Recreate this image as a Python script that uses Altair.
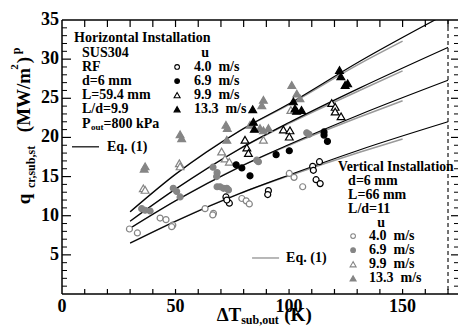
import altair as alt
import pandas as pd

FONT = "Liberation Serif"
W, H = 396, 274
XMAX, YMAX = 174.4, 35
GRAY = "#858585"
LGRAY = "#9a9a9a"

# ---------------- data ----------------
# Horizontal installation (black markers)
h40_x = [113.4, 110.4, 110.7, 111.9, 113.7, 90.9, 90.6, 72.2, 73.7, 72.6]
h40_y = [16.9, 16.3, 15.8, 14.6, 14.1, 13.2, 12.7, 12.4, 11.6, 12.0]
h69_x = [115.4, 115.4, 116.9, 100.1, 94.3, 76.7, 79.2, 82.8]
h69_y = [20.7, 20.3, 19.5, 18.3, 17.8, 16.5, 16.1, 15.1]
h99_x = [118.8, 120.3, 120.3, 122.9, 97.5, 100.4, 100.1, 80.6, 81.4, 82.1]
h99_y = [24.4, 23.9, 23.3, 22.7, 21.0, 20.9, 20.1, 19.7, 18.7, 18.0]
h133_x = [122.2, 122.8, 124.7, 125.8, 101.9, 102.6, 103.3, 105.5, 84.0, 84.3, 84.7]
h133_y = [28.6, 27.8, 26.7, 26.9, 24.6, 23.7, 23.4, 23.5, 23.6, 22.0, 21.1]

# Vertical installation (gray markers)
v40_x = [100.1, 102.2, 106.0, 79.2, 81.1, 82.5, 63.0, 66.7, 66.4, 43.2, 45.8, 48.8, 48.3, 29.7, 33.2]
v40_y = [15.4, 14.9, 13.7, 12.2, 11.9, 11.5, 10.9, 10.3, 10.1, 9.7, 9.5, 8.8, 8.6, 8.3, 7.8]
v69_x = [107.8, 108.8, 85.8, 86.5, 66.5, 68.3, 68.1, 68.3, 69.6, 71.1, 72.6, 73.3,
         49.0, 50.5, 52.0, 35.1, 36.6, 38.8]
v69_y = [20.6, 20.4, 17.1, 16.9, 16.2, 15.5, 15.0, 13.7, 13.7, 13.5, 13.5, 13.3,
         13.5, 13.1, 12.4, 10.9, 10.7, 10.6]
v99_x = [100.8, 88.7, 70.3, 71.8, 73.7, 51.7, 52.0, 35.8, 36.6]
v99_y = [23.5, 19.7, 18.2, 17.3, 16.9, 16.7, 16.3, 13.5, 13.3]
v133_x = [101.2, 103.4, 104.8, 88.7, 88.0, 72.2, 72.8, 87.2, 88.7, 90.9, 82.8,
          72.6, 52.0, 52.7, 36.6, 36.2]
v133_y = [26.7, 25.6, 25.0, 24.8, 24.1, 21.6, 21.2, 21.2, 20.9, 21.2, 21.6,
          19.7, 20.4, 19.9, 16.3, 16.0]

# Eq. (1) curves
h_eq_x = [30, 50, 78, 100, 131, 170]
h_eq_133 = [10.5, 15.3, 20.8, 24.3, 29.7, 35.9]
h_eq_99 = [9.3, 13.4, 18.5, 21.9, 26.3, 31.5]
h_eq_69 = [8.4, 11.9, 16.2, 19.1, 22.9, 27.3]
h_eq_40 = [6.5, 9.3, 12.8, 15.2, 18.4, 22.0]
v_eq_x = [30, 50, 78, 100, 131, 150]
v_eq_133 = [10.5, 15.3, 20.8, 24.2, 29.4, 32.3]
v_eq_99 = [9.3, 13.4, 18.5, 21.8, 26.0, 28.5]
v_eq_69 = [8.4, 11.9, 16.2, 19.0, 22.6, 24.7]
v_eq_40 = [6.5, 9.3, 12.8, 15.1, 18.1, 19.8]

x_labels = [0, 50, 100, 150]
y_labels = [5, 10, 15, 20, 25, 30, 35]
x_ticks = list(range(10, 171, 10))
y_major = [5, 10, 15, 20, 25, 30]
y_minor = [v for v in range(1, 35) if v % 5 != 0]
speeds = ["4.0\u00a0 m/s", "6.9\u00a0 m/s", "9.9\u00a0 m/s", "13.3\u00a0 m/s"]

ONE = pd.DataFrame({"k": [0]})
XS = alt.Scale(domain=[0, XMAX], nice=False, zero=False)
YS = alt.Scale(domain=[0, YMAX], nice=False, zero=False)


def xq(f="x"):
    return alt.X(f + ":Q", scale=XS, axis=None)


def yq(f="y"):
    return alt.Y(f + ":Q", scale=YS, axis=None)


def pts(xs, ys, shape, fill, stroke, size, sw=1.2):
    df = pd.DataFrame({"x": xs, "y": ys})
    return alt.Chart(df).mark_point(shape=shape, filled=True, fill=fill, stroke=stroke,
                                    strokeWidth=sw, size=size, opacity=1).encode(x=xq(), y=yq())


def curve(xs, ys, color, width):
    df = pd.DataFrame({"x": xs, "y": ys})
    return alt.Chart(df).mark_line(color=color, strokeWidth=width, clip=True,
                                   interpolate="monotone").encode(x=xq(), y=yq())


def note(text, x, y, size=14, align="left", color="black"):
    df = pd.DataFrame({"x": [x], "y": [y], "t": [text]})
    return alt.Chart(df).mark_text(font=FONT, fontSize=size, fontWeight="bold",
                                   align=align, baseline="middle", color=color).encode(
        x=xq(), y=yq(), text="t:N")


def ptext(text, px, py, size, angle=0):
    return alt.Chart(ONE).mark_text(text=text, font=FONT, fontSize=size, fontWeight="bold",
                                    align="center", baseline="middle", angle=angle,
                                    color="black").encode(x=alt.value(px), y=alt.value(py))


def seg(x1, x2, y, color, width):
    df = pd.DataFrame({"x": [x1], "x2": [x2], "y": [y]})
    return alt.Chart(df).mark_rule(color=color, strokeWidth=width).encode(
        x=xq(), x2="x2:Q", y=yq())


layers = []

# frame lines
layers.append(alt.Chart(ONE).mark_rule(color="black", strokeWidth=1.5).encode(
    x=alt.value(0), x2=alt.value(W), y=alt.value(0)))
layers.append(alt.Chart(ONE).mark_rule(color="black", strokeWidth=1.5).encode(
    x=alt.value(0), x2=alt.value(W), y=alt.value(H)))
layers.append(alt.Chart(ONE).mark_rule(color="black", strokeWidth=1.5).encode(
    x=alt.value(0), y=alt.value(0), y2=alt.value(H)))

# tick labels
xl = pd.DataFrame({"v": x_labels, "t": [str(v) for v in x_labels]})
layers.append(alt.Chart(xl).mark_text(font=FONT, fontSize=18, fontWeight="bold", color="black",
                                      baseline="middle", align="center").encode(
    x=xq("v"), y=alt.value(H + 13), text="t:N"))
yl = pd.DataFrame({"v": y_labels, "t": [str(v) for v in y_labels]})
layers.append(alt.Chart(yl).mark_text(font=FONT, fontSize=18, fontWeight="bold", color="black",
                                      baseline="middle", align="right").encode(
    y=yq("v"), x=alt.value(-3), text="t:N"))

# inward ticks
tdf = pd.DataFrame({"t": x_ticks})
layers.append(alt.Chart(tdf).mark_rule(color="black", strokeWidth=1.2).encode(
    x=xq("t"), y=alt.value(H), y2=alt.value(H - 5)))
layers.append(alt.Chart(tdf).mark_rule(color="black", strokeWidth=1.2).encode(
    x=xq("t"), y=alt.value(0), y2=alt.value(7)))
ymj = pd.DataFrame({"t": y_major})
ymn = pd.DataFrame({"t": y_minor})
layers.append(alt.Chart(ymj).mark_rule(color="black", strokeWidth=1.2).encode(
    y=yq("t"), x=alt.value(0), x2=alt.value(9)))
layers.append(alt.Chart(ymn).mark_rule(color="black", strokeWidth=1.0).encode(
    y=yq("t"), x=alt.value(0), x2=alt.value(5)))
layers.append(alt.Chart(ymj).mark_rule(color="black", strokeWidth=1.2).encode(
    y=yq("t"), x=alt.value(W - 7), x2=alt.value(W)))
layers.append(alt.Chart(ymn).mark_rule(color="black", strokeWidth=1.0).encode(
    y=yq("t"), x=alt.value(W - 4), x2=alt.value(W)))

# dashed limit line
dl = pd.DataFrame({"x": [170]})
layers.append(alt.Chart(dl).mark_rule(color="black", strokeWidth=1.1, strokeDash=[4, 3]).encode(
    x=xq(), y=alt.value(0), y2=alt.value(H)))

# Eq. (1) curves
for ys in [v_eq_133, v_eq_99, v_eq_69, v_eq_40]:
    layers.append(curve(v_eq_x, ys, LGRAY, 1.6))
for ys in [h_eq_133, h_eq_99, h_eq_69, h_eq_40]:
    layers.append(curve(h_eq_x, ys, "black", 1.2))

# data points: vertical (gray) then horizontal (black)
layers.append(pts(v40_x, v40_y, "circle", "white", GRAY, 36))
layers.append(pts(v69_x, v69_y, "circle", GRAY, GRAY, 36))
layers.append(pts(v99_x, v99_y, "triangle-up", "white", GRAY, 60))
layers.append(pts(v133_x, v133_y, "triangle-up", GRAY, GRAY, 60))
layers.append(pts(h40_x, h40_y, "circle", "white", "black", 36))
layers.append(pts(h69_x, h69_y, "circle", "black", "black", 36))
layers.append(pts(h99_x, h99_y, "triangle-up", "white", "black", 60))
layers.append(pts(h133_x, h133_y, "triangle-up", "black", "black", 60))

# Horizontal installation legend
layers += [
    note("Horizontal Installation", 5.3, 32.7),
    note("SUS304", 8.8, 30.8),
    note("RF", 8.8, 29.0),
    note("d=6 mm", 8.8, 27.2),
    note("L=59.4 mm", 8.8, 25.4),
    note("L/d=9.9", 8.8, 23.6),
    note("P", 8.8, 21.7),
    note("out", 12.8, 21.3, size=9),
    note("=800 kPa", 18.3, 21.7),
    note("Eq. (1)", 19.8, 18.8),
    note("u", 63.0, 30.8, align="center"),
    seg(4.4, 16.3, 18.8, "black", 1.2),
]
h_sym = [("circle", "white", "black", 22), ("circle", "black", "black", 22),
         ("triangle-up", "white", "black", 36), ("triangle-up", "black", "black", 36)]
h_rows = [29.0, 27.2, 25.4, 23.6]
for (shape, fill, stroke, size), yy, lab in zip(h_sym, h_rows, speeds):
    layers.append(pts([50.7], [yy], shape, fill, stroke, size, 1.1))
    layers.append(note(lab, 58.1, yy))

# Vertical installation legend
layers += [
    note("Vertical Installation", 121.6, 16.2, size=13.6),
    note("d=6 mm", 126.0, 14.4),
    note("L=66 mm", 126.0, 12.6),
    note("L/d=11", 126.0, 10.9),
    note("u", 140.5, 9.1, align="center"),
    note("Eq. (1)", 98.7, 4.6),
    seg(83.7, 95.6, 4.6, LGRAY, 1.4),
]
v_sym = [("circle", "white", GRAY, 22), ("circle", GRAY, GRAY, 22),
         ("triangle-up", "white", GRAY, 36), ("triangle-up", GRAY, GRAY, 36)]
v_rows = [7.4, 5.6, 3.8, 2.0]
for (shape, fill, stroke, size), yy, lab in zip(v_sym, v_rows, speeds):
    layers.append(pts([128.2], [yy], shape, fill, stroke, size, 1.1))
    layers.append(note(lab, 135.2, yy))

# axis titles (composed for sub/superscripts)
layers += [
    ptext("\u0394T", 167, 295, 19),
    ptext("sub,out", 198, 300, 12),
    ptext("(K)", 236, 295, 19),
    ptext("q", -38, 179, 19, 270),
    ptext("cr,sub,st", -31, 147, 12, 270),
    ptext("(MW/m", -38, 80, 19, 270),
    ptext("2", -47, 47, 11, 270),
    ptext(")", -38, 40, 19, 270),
    ptext("p", -46, 31, 12, 270),
]

chart = alt.layer(*layers).properties(
    width=W, height=H,
    padding={"left": 54, "top": 12, "right": 0, "bottom": 32},
    autosize=alt.AutoSizeParams(type="none"),
).configure_view(stroke=None)

chart.save("out.html", embed_options={"renderer": "svg", "actions": False})
